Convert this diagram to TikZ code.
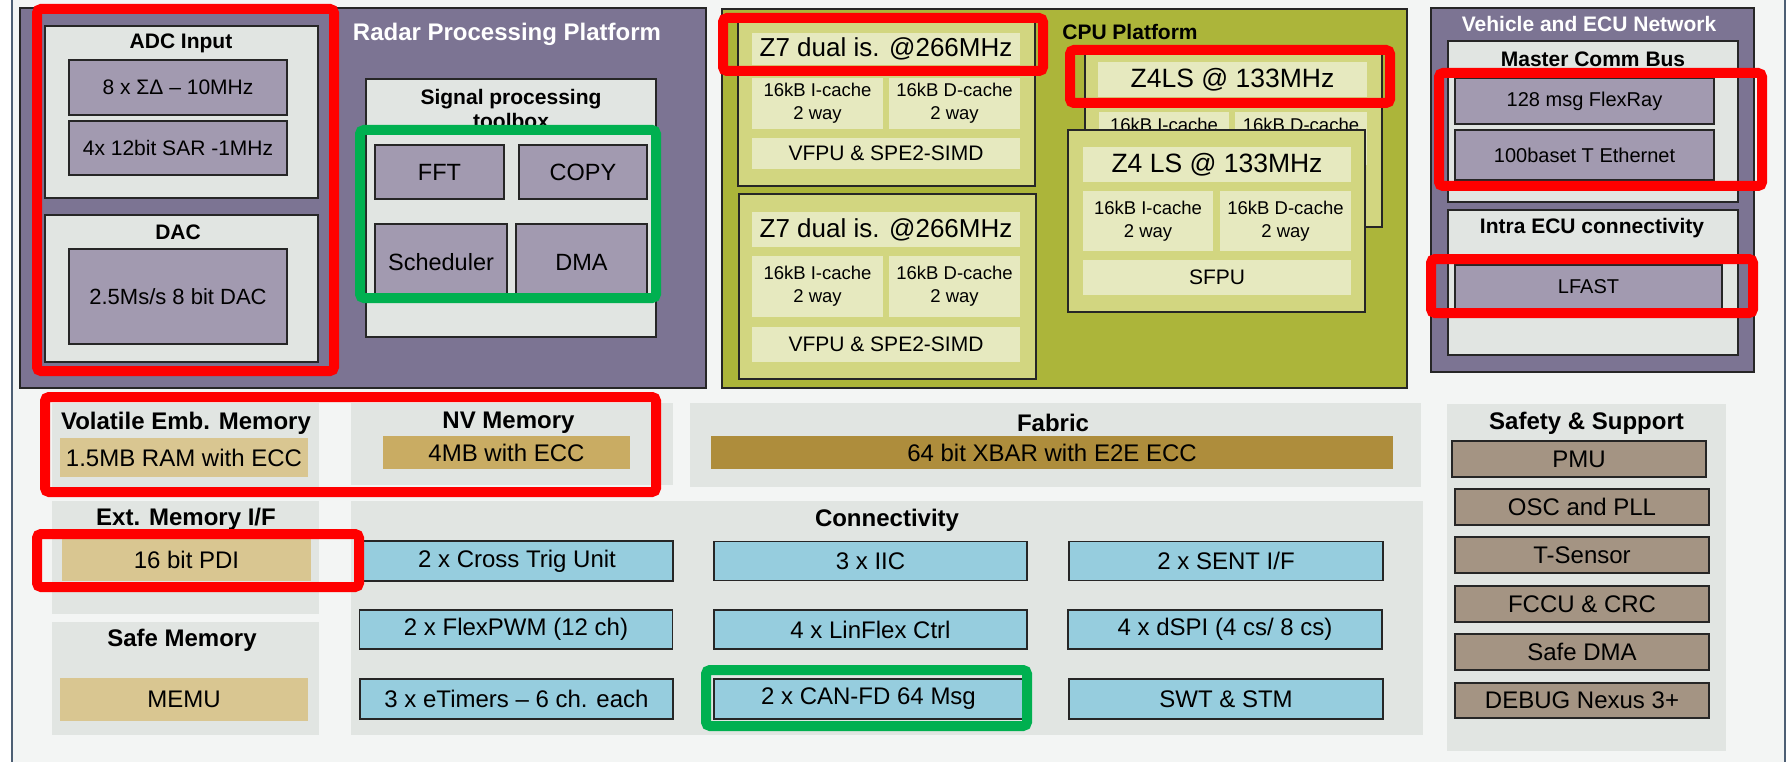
\documentclass[tikz,border=0pt]{standalone}
\usepackage{fontspec}
\setmainfont{Liberation Sans}
\usepackage{xcolor}
\definecolor{platpurple}{HTML}{7C7493}
\definecolor{boxgray}{HTML}{E1E5E2}
\definecolor{lav}{HTML}{A29AB0}
\definecolor{cpuolive}{HTML}{ACB53A}
\definecolor{corefill}{HTML}{D2D680}
\definecolor{corepad}{HTML}{E6E9BF}
\definecolor{tanlight}{HTML}{D9C691}
\definecolor{tanmid}{HTML}{C9AC63}
\definecolor{tandark}{HTML}{AE8D3C}
\definecolor{cyanblk}{HTML}{96CDDE}
\definecolor{taupe}{HTML}{A49483}
\definecolor{pagebg}{HTML}{F3F5F4}
\definecolor{framecol}{HTML}{4D5F74}
\definecolor{edge}{HTML}{262626}
\definecolor{markgreen}{HTML}{00B050}

\begin{document}
\begin{tikzpicture}[x=1pt, y=-1pt,
    sz/.style 2 args={minimum width=#1pt, minimum height=#2pt},
    txt/.style={font=\fontsize{#1}{#1}\selectfont},
    plat/.style={draw=edge, line width=1.8pt, fill=#1, inner sep=0pt},
    grp/.style={draw=edge, line width=1.5pt, fill=boxgray, inner sep=0pt},
    zone/.style={fill=boxgray, inner sep=0pt},
    ttl/.style={font=\bfseries\fontsize{#1}{#1}\selectfont, inner sep=0pt},
    blk/.style={draw=edge, line width=1.5pt, fill=#1, inner sep=0pt},
    pad/.style={fill=#1, inner sep=0pt},
    cache/.style={pad=corepad, align=center, font=\fontsize{18.5}{23}\selectfont},
    hilite/.style={draw=#1, line width=10pt, rounded corners=4pt}]
    \useasboundingbox (0,0) rectangle (1787,762);
    \fill[pagebg] (12,0) rectangle (1785,762);
    \draw[framecol, line width=2.5pt] (12,0) -- (12,762) (1785,0) -- (1785,762);

    % radar processing platform
    \node[plat=platpurple, sz={686}{380}] (rpp) at (363,198) {};
    \node[ttl=24, text=white] (rppt) at (507,34) {Radar Processing Platform};
    \node[grp, sz={273}{172}] (adcbox) at (181.5,112) {};
    \node[ttl=21] (adct) at (181,43) {ADC Input};
    \node[blk=lav, sz={218}{55}, txt=21] (adcsd) at (178,87.5) {8 x ΣΔ – 10MHz};
    \node[blk=lav, sz={218}{54}, txt=21] (adcsar) at (178,148) {4x 12bit SAR -1MHz};
    \node[grp, sz={273}{147}] (dacbox) at (181.5,288.5) {};
    \node[ttl=21] (dact) at (178,232) {DAC};
    \node[blk=lav, sz={218}{95}, txt=22] (dacout) at (178,296.5) {2.5Ms/s 8 bit DAC};
    \node[grp, sz={290}{258}] (sptbox) at (511,208) {};
    \node[ttl=21, align=center, font=\bfseries\fontsize{21}{24.5}\selectfont] (sptt) at (511,109) {Signal processing\\toolbox};
    \node[blk=lav, sz={129}{54}, txt=23.5] (fft) at (439.5,172) {FFT};
    \node[blk=lav, sz={128}{54}, txt=23.5] (copy) at (583,172) {COPY};
    \node[blk=lav, sz={132}{76}, txt=23.5] (sched) at (441,262) {Scheduler};
    \node[blk=lav, sz={131}{76}, txt=23.5] (dma) at (581.5,262) {DMA};

    % cpu platform
    \node[plat=cpuolive, sz={685}{379}] (cpu) at (1064.5,198.5) {};
    \node[ttl=21] (cput) at (1130,32) {CPU Platform};
    \node[blk=corefill, sz={297}{165}] (z7a) at (886.5,103.5) {};
    \node[pad=corepad, sz={268}{32}, txt=26] (z7ahdr) at (886,49) {Z7 dual is. @266MHz};
    \node[cache, sz={131}{51}] (z7aic) at (817.5,103.5) {16kB I-cache\\2 way};
    \node[cache, sz={131}{51}] (z7adc) at (954.5,103.5) {16kB D-cache\\2 way};
    \node[pad=corepad, sz={268}{31}, txt=21] (z7afpu) at (886,153.5) {VFPU \& SPE2-SIMD};
    \node[blk=corefill, sz={297}{185}] (z7b) at (887.5,286.5) {};
    \node[pad=corepad, sz={268}{35}, txt=26] (z7bhdr) at (886,229.5) {Z7 dual is. @266MHz};
    \node[cache, sz={131}{61}] (z7bic) at (817.5,286.5) {16kB I-cache\\2 way};
    \node[cache, sz={131}{61}] (z7bdc) at (954.5,286.5) {16kB D-cache\\2 way};
    \node[pad=corepad, sz={268}{35}, txt=21] (z7bfpu) at (886,344.5) {VFPU \& SPE2-SIMD};
    \node[blk=corefill, sz={297}{175}] (z4b) at (1233.5,139.5) {};
    \node[pad=corepad, sz={269}{35}, txt=26.5] (z4bhdr) at (1232.5,79.5) {Z4LS @ 133MHz};
    \node[cache, sz={130}{53}] (z4bic) at (1164,138.5) {16kB I-cache\\2 way};
    \node[cache, sz={132}{53}] (z4bdc) at (1301,138.5) {16kB D-cache\\2 way};
    \node[blk=corefill, sz={297}{182}] (z4f) at (1216.5,221) {};
    \node[pad=corepad, sz={268}{35}, txt=26.5] (z4fhdr) at (1217,164.5) {Z4 LS @ 133MHz};
    \node[cache, sz={130}{60}] (z4fic) at (1148,221) {16kB I-cache\\2 way};
    \node[cache, sz={131}{60}] (z4fdc) at (1285.5,221) {16kB D-cache\\2 way};
    \node[pad=corepad, sz={268}{35}, txt=21] (z4ffpu) at (1217,277.5) {SFPU};

    % vehicle and ecu network
    \node[plat=platpurple, sz={323}{364}] (veh) at (1592.5,190) {};
    \node[ttl=21, text=white] (veht) at (1589,24) {Vehicle and ECU Network};
    \node[grp, sz={290}{161}] (mcb) at (1593,121.5) {};
    \node[ttl=21] (mcbt) at (1593,59) {Master Comm Bus};
    \node[blk=lav, sz={259}{46}, txt=20] (flexray) at (1584.5,101) {128 msg FlexRay};
    \node[blk=lav, sz={259}{50}, txt=20] (eth) at (1584.5,155) {100baset T Ethernet};
    \node[grp, sz={290}{145}] (iecu) at (1593,282.5) {};
    \node[ttl=21] (iecut) at (1592,228) {Intra ECU connectivity};
    \node[blk=lav, sz={267}{44}, txt=20] (lfast) at (1588.5,287) {LFAST};

    % memories and fabric
    \node[zone, sz={267}{84}] (vem) at (185.5,445) {};
    \node[ttl=24] (vemt) at (186,423) {Volatile Emb. Memory};
    \node[pad=tanlight, sz={248}{39}, txt=24] (ram) at (184,457.5) {1.5MB RAM with ECC};
    \node[zone, sz={322}{82}] (nvm) at (512,444) {};
    \node[ttl=24] (nvmt) at (508.5,423) {NV Memory};
    \node[pad=tanmid, sz={247}{33}, txt=24] (nvflash) at (506.5,452.5) {4MB with ECC};
    \node[zone, sz={731}{84}] (fab) at (1055.5,445) {};
    \node[ttl=24] (fabt) at (1053,423) {Fabric};
    \node[pad=tandark, sz={682}{33}, txt=24] (xbar) at (1052,452.5) {64 bit XBAR with E2E ECC};
    \node[zone, sz={267}{113}] (emi) at (185.5,557.5) {};
    \node[ttl=24] (emit) at (186,519) {Ext. Memory I/F};
    \node[pad=tanlight, sz={249}{42}, txt=24] (pdi) at (186.5,560) {16 bit PDI};
    \node[zone, sz={267}{113}] (sfm) at (185.5,678.5) {};
    \node[ttl=24] (sfmt) at (182,640) {Safe Memory};
    \node[pad=tanlight, sz={248}{43}, txt=24] (memu) at (184,699.5) {MEMU};

    % connectivity
    \node[zone, sz={1072}{234}] (con) at (887,618) {};
    \node[ttl=24] (cont) at (887,520) {Connectivity};
    \node[blk=cyanblk, sz={312}{40}, txt=24] (ctu) at (517,561) {2 x Cross Trig Unit};
    \node[blk=cyanblk, sz={313}{39}, txt=24] (iic) at (870.5,561) {3 x IIC};
    \node[blk=cyanblk, sz={314}{39}, txt=24] (sent) at (1226,561) {2 x SENT I/F};
    \node[blk=cyanblk, sz={313}{39}, txt=24] (pwm) at (516,629.5) {2 x FlexPWM (12 ch)};
    \node[blk=cyanblk, sz={313}{39}, txt=24] (lin) at (870.5,629.5) {4 x LinFlex Ctrl};
    \node[blk=cyanblk, sz={314}{39}, txt=24] (dspi) at (1225,629.5) {4 x dSPI (4 cs/ 8 cs)};
    \node[blk=cyanblk, sz={313}{40}, txt=24] (etim) at (516.5,699) {3 x eTimers – 6 ch. each};
    \node[blk=cyanblk, sz={309}{40}, txt=24] (can) at (868.5,699) {2 x CAN-FD 64 Msg};
    \node[blk=cyanblk, sz={314}{40}, txt=24] (swt) at (1226,699) {SWT \& STM};

    % safety and support
    \node[zone, sz={279}{347}] (saf) at (1586.5,577.5) {};
    \node[ttl=24] (saft) at (1586.5,423) {Safety \& Support};
    \node[blk=taupe, sz={254}{36}, txt=24] (pmu) at (1579,459) {PMU};
    \node[blk=taupe, sz={254}{36}, txt=24] (osc) at (1582,507) {OSC and PLL};
    \node[blk=taupe, sz={254}{36}, txt=24] (tsen) at (1582,555) {T-Sensor};
    \node[blk=taupe, sz={254}{36}, txt=24] (fccu) at (1582,604) {FCCU \& CRC};
    \node[blk=taupe, sz={254}{36}, txt=24] (sdma) at (1582,652) {Safe DMA};
    \node[blk=taupe, sz={254}{35}, txt=24] (dbg) at (1582,700.5) {DEBUG Nexus 3+};

    % highlight frames
    \draw[hilite=red] (37,9) rectangle (334,371);
    \draw[hilite=red] (723,18) rectangle (1043,71);
    \draw[hilite=red] (1070,50) rectangle (1390,103);
    \draw[hilite=red] (1439,73) rectangle (1762,186);
    \draw[hilite=red] (1431,259) rectangle (1753,313);
    \draw[hilite=red] (45,397) rectangle (656,492);
    \draw[hilite=red] (37,534) rectangle (359,587);
    \draw[hilite=markgreen] (360,130) rectangle (656,298);
    \draw[hilite=markgreen] (706,670) rectangle (1027,726);
\end{tikzpicture}
\end{document}
